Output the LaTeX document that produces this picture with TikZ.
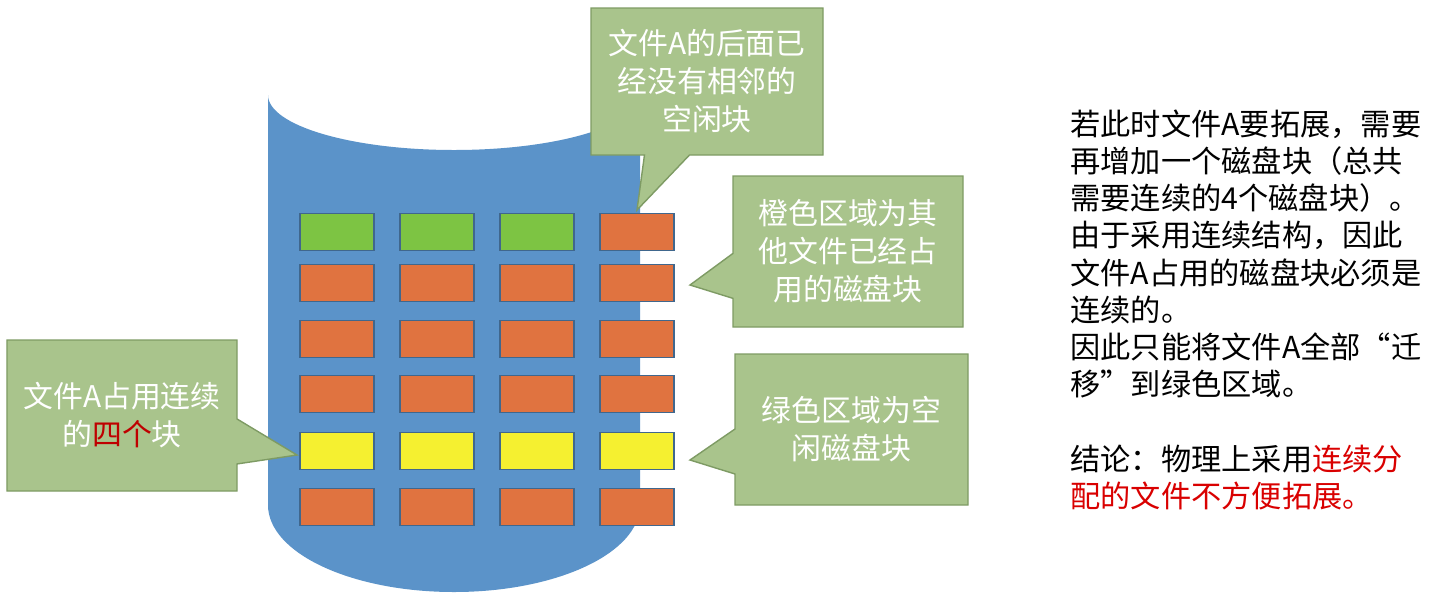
\documentclass[tikz,border=0pt]{standalone}
\usepackage{fontspec}
\setmainfont{Noto Sans CJK SC}
\usetikzlibrary{shapes.callouts}
\definecolor{disk}{HTML}{5B93C9}
\definecolor{used}{HTML}{E07340}
\definecolor{free}{HTML}{7DC443}
\definecolor{fileA}{HTML}{F5F030}
\definecolor{note}{HTML}{A9C48C}
\definecolor{noteline}{HTML}{7E9B64}
\tikzset{
  blk/.style={draw=disk!70!black,minimum width=0.74cm,minimum height=0.37cm,inner sep=0pt},
  tip/.style={rectangle callout,fill=note,draw=noteline,text=white,align=center,
    font=\fontsize{8.5}{10.8}\selectfont,inner sep=0pt,callout pointer width=0.45cm},
  txt/.style={anchor=north west,align=left,font=\fontsize{8.6}{10.6}\selectfont}
}
\begin{document}
\begin{tikzpicture}
\useasboundingbox (0,0) rectangle (14.34,6.02);
%disk
\fill[disk] (2.68,5.07) arc[start angle=180,end angle=360,x radius=1.86,y radius=0.55]
  -- (6.40,0.97) arc[start angle=0,end angle=-180,x radius=1.86,y radius=0.87] -- cycle;
%blocks
\foreach \r/\y/\c in {2/3.19/used,3/2.63/used,4/2.08/used,5/1.51/fileA,6/0.95/used}{
  \foreach \k in {1,...,4}{
    \node[blk,fill=\c] (b\r\k) at ({2.37+\k},\y) {};
  }
}
\foreach \k in {1,2,3}{\node[blk,fill=free] (b1\k) at ({2.37+\k},3.70) {};}
\node[blk,fill=used] (b14) at (6.37,3.70) {};
%callouts
\node[tip,minimum width=2.32cm,minimum height=1.47cm,callout absolute pointer={(6.37,3.92)}]
  (tA) at (7.07,5.205) {文件A的后面已\\经没有相邻的\\空闲块};
\node[tip,minimum width=2.30cm,minimum height=1.51cm,callout absolute pointer={(6.90,3.17)}]
  (tB) at (8.48,3.505) {橙色区域为其\\他文件已经占\\用的磁盘块};
\node[tip,minimum width=2.33cm,minimum height=1.51cm,callout absolute pointer={(6.90,1.42)}]
  (tC) at (8.515,1.725) {绿色区域为空\\闲磁盘块};
\node[tip,minimum width=2.30cm,minimum height=1.51cm,callout absolute pointer={(2.97,1.47)}]
  (tD) at (1.22,1.865) {文件A占用连续\\的\textcolor{red!75!black}{四个}块};
%text
\node[txt] (desc) at (10.58,5.05) {若此时文件A要拓展，需要\\再增加一个磁盘块（总共\\需要连续的4个磁盘块）。\\由于采用连续结构，因此\\文件A占用的磁盘块必须是\\连续的。\\因此只能将文件A全部“迁\\移”到绿色区域。\\[10.6pt]结论：物理上采用\textcolor{red!85!black}{连续分}\\\textcolor{red!85!black}{配的文件不方便拓展。}};
\end{tikzpicture}
\end{document}
